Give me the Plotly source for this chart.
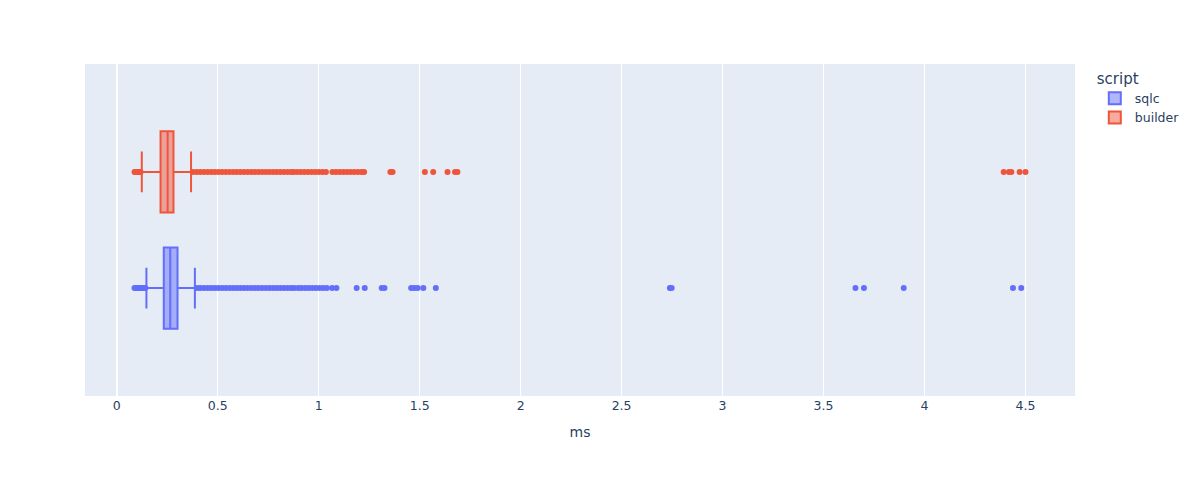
import plotly.graph_objects as go

# box statistics (ms)
scripts = ["sqlc", "builder"]
colors = ["#636efa", "#EF553B"]

lower_fence = [0.147, 0.124]
q1 = [0.233, 0.217]
median = [0.265, 0.252]
q3 = [0.301, 0.281]
upper_fence = [0.387, 0.368]

# outlier points for each script
sqlc_outliers = [
    0.088, 0.094, 0.100, 0.106, 0.112, 0.118, 0.124, 0.130, 0.136, 0.142,
    0.398, 0.414, 0.432, 0.45, 0.468, 0.486, 0.504, 0.522, 0.54, 0.558,
    0.576, 0.594, 0.612, 0.63, 0.648, 0.666, 0.684, 0.702, 0.72, 0.738,
    0.756, 0.774, 0.792, 0.81, 0.828, 0.846, 0.864, 0.879,
    0.898, 0.914, 0.932, 0.95, 0.968, 0.986, 1.004, 1.022, 1.04,
    1.066, 1.088, 1.188, 1.228, 1.312, 1.326,
    1.458, 1.474, 1.49, 1.518, 1.58,
    2.739, 2.748, 3.658, 3.70, 3.897, 4.438, 4.479,
]
builder_outliers = [
    0.088, 0.094, 0.100, 0.106, 0.112, 0.118,
    0.378, 0.396, 0.414, 0.432, 0.45, 0.468, 0.486, 0.504, 0.522, 0.54,
    0.558, 0.576, 0.594, 0.612, 0.63, 0.648, 0.666, 0.684, 0.702, 0.72,
    0.738, 0.756, 0.774, 0.792, 0.81, 0.828, 0.846, 0.864, 0.876,
    0.893, 0.911, 0.929, 0.947, 0.965, 0.983, 1.001, 1.019, 1.036,
    1.068, 1.086, 1.104, 1.122, 1.14, 1.158, 1.176, 1.194, 1.212, 1.225,
    1.355, 1.366, 1.526, 1.567, 1.638, 1.675, 1.687,
    4.392, 4.418, 4.43, 4.471, 4.50,
]
outliers = [sqlc_outliers, builder_outliers]

fig = go.Figure()
for i, name in enumerate(scripts):
    fig.add_trace(go.Box(
        name=name,
        legendgroup=name,
        orientation="h",
        y0=" ",
        x=[outliers[i]],
        q1=[q1[i]],
        median=[median[i]],
        q3=[q3[i]],
        lowerfence=[lower_fence[i]],
        upperfence=[upper_fence[i]],
        boxpoints="outliers",
        marker=dict(color=colors[i]),
        line=dict(color=colors[i]),
        offsetgroup=name,
        alignmentgroup="True",
    ))

fig.update_layout(
    template="plotly",
    boxmode="group",
    width=1184,
    height=466,
    margin=dict(l=77, r=117, t=56, b=78, autoexpand=False),
    font=dict(family="DejaVu Sans", size=12.5),
    legend=dict(title=dict(text="script", font=dict(size=15)), tracegroupgap=0),
    xaxis=dict(title=dict(text="ms", font=dict(size=14))),
    yaxis=dict(showticklabels=False, showgrid=False, zeroline=False,
               range=[-0.5, 0.5]),
)

fig.write_html("out.html")
